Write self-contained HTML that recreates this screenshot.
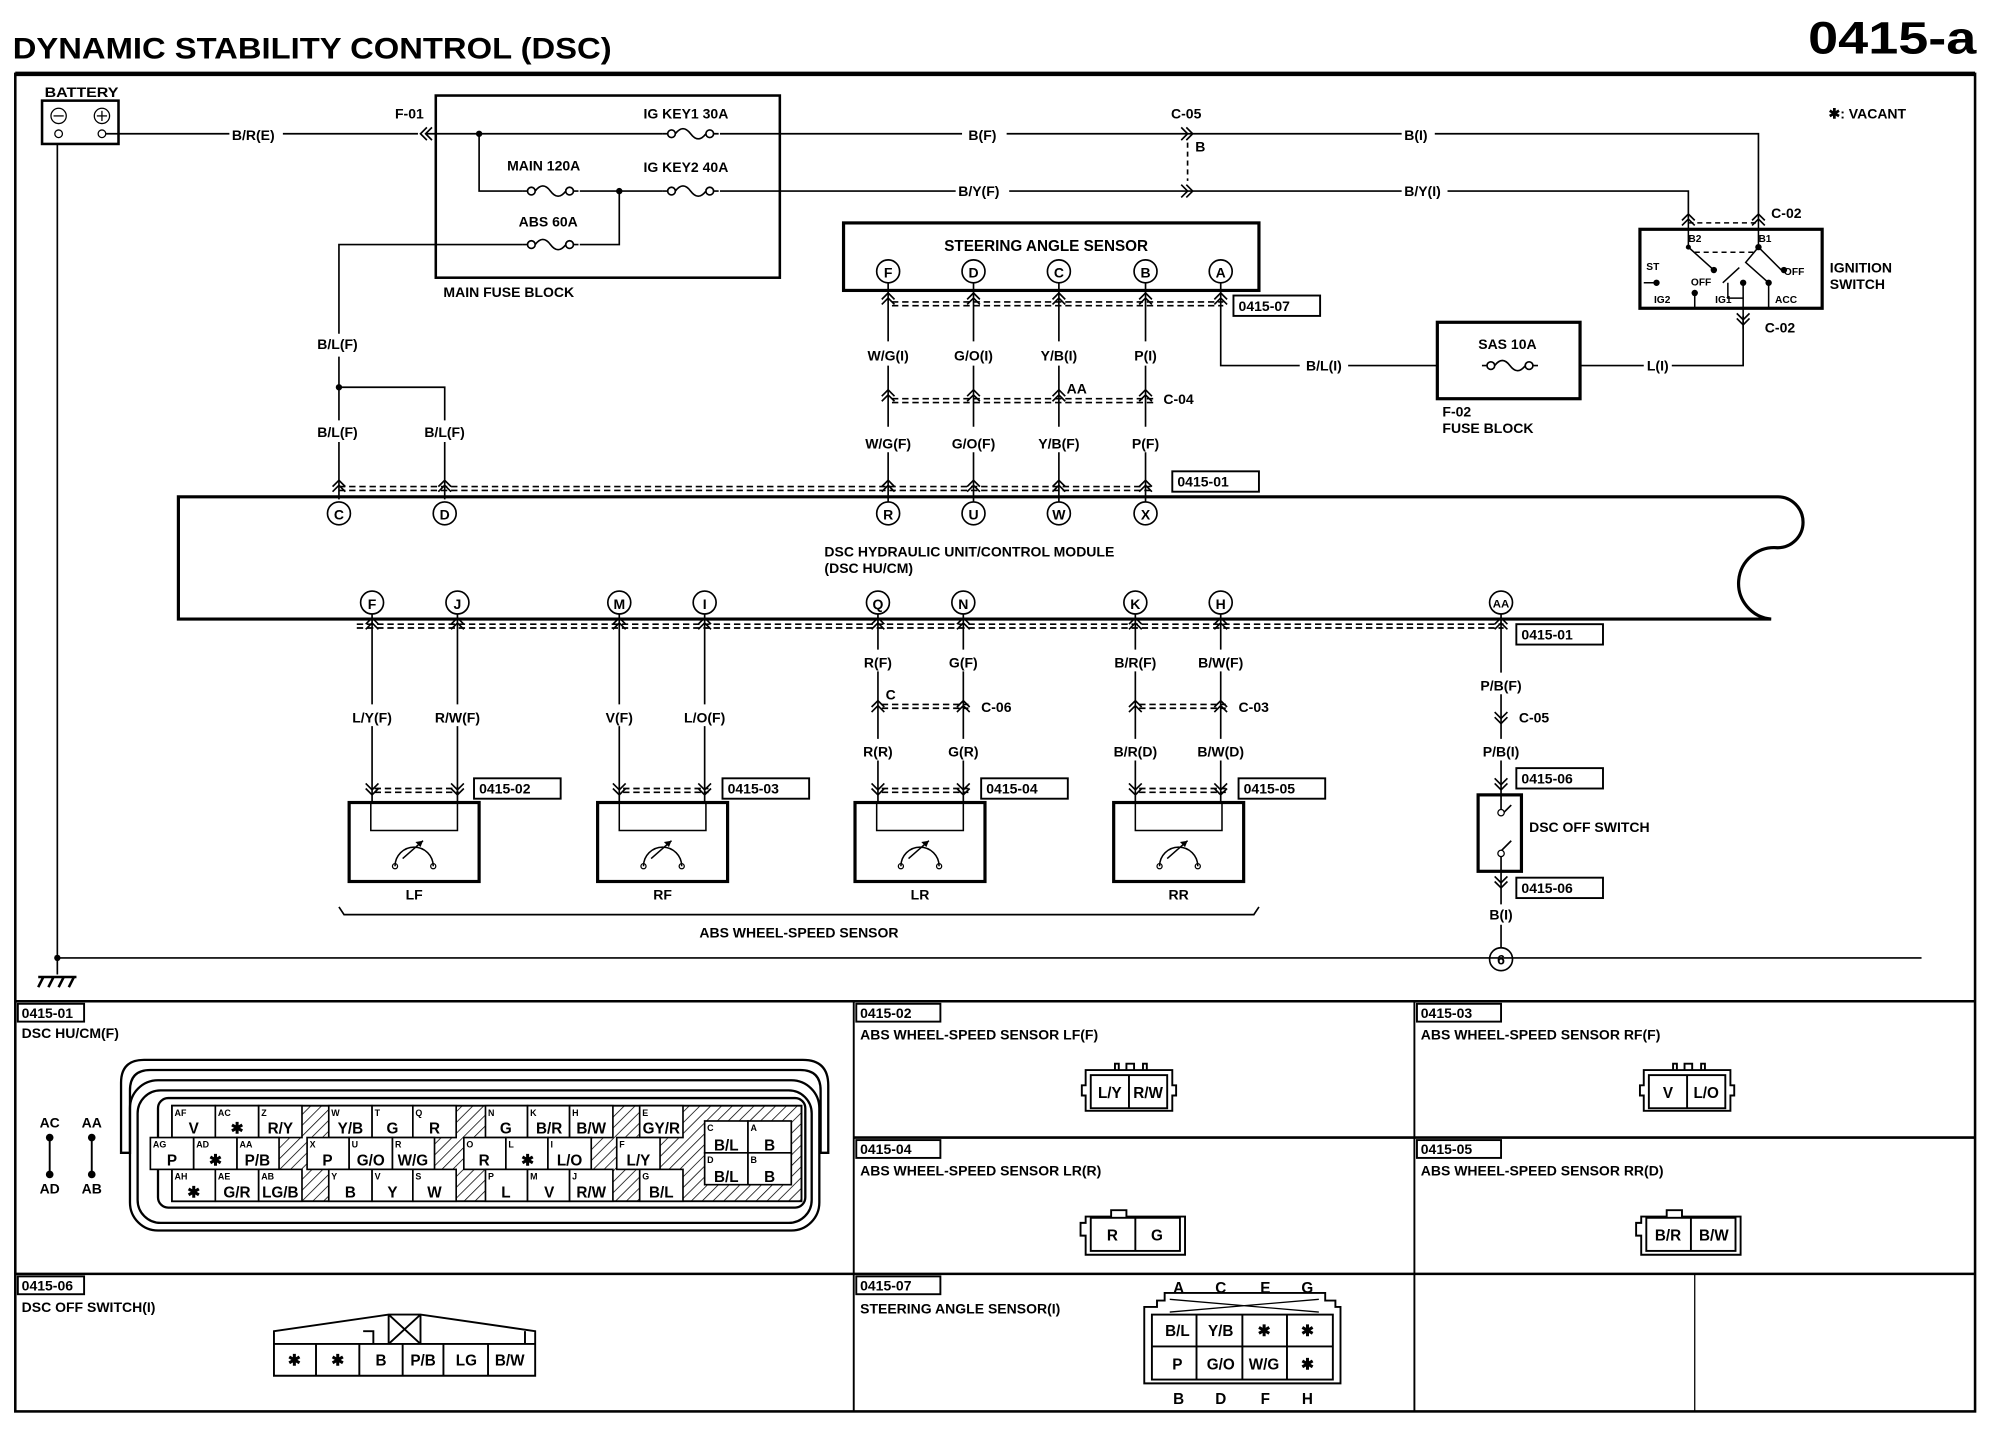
<!DOCTYPE html>
<html><head><meta charset="utf-8"><style>
html,body{margin:0;padding:0;background:#fff}
svg{display:block}
text{font-family:"Liberation Sans",sans-serif;font-weight:bold;fill:#000}
</style></head><body>
<svg width="1998" height="1456" viewBox="0 0 1568 1143" preserveAspectRatio="none" xmlns="http://www.w3.org/2000/svg">
<defs>
<path id="cu" d="M-5,5 L0,0 L5,5 M-5,9 L0,4 L5,9" fill="none" stroke="#000" stroke-width="1.3"/>
<path id="cd" d="M-5,-5 L0,0 L5,-5 M-5,-9 L0,-4 L5,-9" fill="none" stroke="#000" stroke-width="1.3"/>
<path id="cl" d="M5,-5 L0,0 L5,5 M9,-5 L4,0 L9,5" fill="none" stroke="#000" stroke-width="1.3"/>
<path id="cr" d="M-5,-5 L0,0 L-5,5 M-9,-5 L-4,0 L-9,5" fill="none" stroke="#000" stroke-width="1.3"/>
<path id="fuse" d="M0,0 h4 m6,0 a3,3 0 1 1 -6,0 a3,3 0 1 1 6,0 q6,-8 12,0 q6,8 12,0 m6,0 a3,3 0 1 1 -6,0 a3,3 0 1 1 6,0 h4" fill="none" stroke="#000" stroke-width="1.3"/>
<g id="sensor"><rect x="0" y="0" width="102" height="62" fill="none" stroke="#000" stroke-width="2.5"/><path d="M17,0 v22 h68 v-22" fill="none" stroke="#000" stroke-width="1.2"/><path d="M36,50 a15,15 0 0 1 30,0" fill="none" stroke="#000" stroke-width="1.2"/><path d="M42,44 L58,30" stroke="#000" stroke-width="1.2"/><path d="M58,30 l-6,1 l4,4z"/><circle cx="36" cy="50" r="2" fill="none" stroke="#000"/><circle cx="66" cy="50" r="2" fill="none" stroke="#000"/></g>
<pattern id="hat" width="6" height="6" patternUnits="userSpaceOnUse" patternTransform="rotate(45)"><rect width="6" height="6" fill="#fff"/><line x1="0" y1="0" x2="0" y2="6" stroke="#000" stroke-width="1.2"/></pattern>
</defs>
<g font-size="11">
<text x="10" y="46" font-size="23" textLength="470" lengthAdjust="spacingAndGlyphs">DYNAMIC STABILITY CONTROL (DSC)</text>
<text x="1419" y="42" font-size="36" textLength="132" lengthAdjust="spacingAndGlyphs">0415-a</text>
</g>
<g fill="none" stroke="#000">
<rect x="12" y="58" width="1538" height="1050" stroke-width="2"/>
<line x1="12" y1="58" x2="1550" y2="58" stroke-width="3.5"/>
<line x1="12" y1="786" x2="1550" y2="786" stroke-width="2"/>
<line x1="670" y1="786" x2="670" y2="1108" stroke-width="1.5"/>
<line x1="1110" y1="786" x2="1110" y2="1108" stroke-width="1.5"/>
<line x1="670" y1="893" x2="1550" y2="893" stroke-width="2"/>
<line x1="12" y1="1000" x2="1550" y2="1000" stroke-width="2"/>
<line x1="1330" y1="1000" x2="1330" y2="1108" stroke-width="1"/>
</g>
<!-- battery -->
<g font-size="11">
<text x="35" y="76" textLength="58" lengthAdjust="spacingAndGlyphs">BATTERY</text>
<rect x="33" y="79" width="60" height="34" fill="none" stroke="#000" stroke-width="2"/>
<circle cx="46" cy="91" r="6" fill="none" stroke="#000"/><line x1="42" y1="91" x2="50" y2="91" stroke="#000"/>
<circle cx="80" cy="91" r="6" fill="none" stroke="#000"/><line x1="76" y1="91" x2="84" y2="91" stroke="#000"/><line x1="80" y1="87" x2="80" y2="95" stroke="#000"/>
<circle cx="46" cy="105" r="3" fill="none" stroke="#000"/><circle cx="80" cy="105" r="3" fill="none" stroke="#000"/>
</g>
<g stroke="#000" fill="none" stroke-width="1.3">
<!-- top wires -->
<path d="M83,105 H180 M222,105 H328 M334,105 H520 M565,105 H755 M790,105 H1100 M1126,105 H1380 V172"/>
<path d="M376,105 V150 H410 M455,150 H520 M565,150 H750 M792,150 H1100 M1136,150 H1325 V172"/>
<path d="M455,192 H486 V150"/>
<path d="M410,192 H266 V262 M266,280 V330 M266,347 V392"/>
<path d="M266,304 H349 V330 M349,347 V392"/>
<rect x="342" y="75" width="270" height="143" stroke-width="2"/>
<path d="M932,112 V142" stroke-dasharray="4,3"/>
<path d="M45,113 V752 H1508"/>
<path d="M45,752 V765"/>
</g>
<use href="#cl" x="330" y="105"/><use href="#cr" x="936" y="105"/><use href="#cr" x="936" y="150"/>
<circle cx="376" cy="105" r="2.5"/><circle cx="486" cy="150" r="2.5"/><circle cx="266" cy="304" r="2.5"/><circle cx="45" cy="752" r="2.5"/>
<use href="#fuse" x="520" y="105"/><use href="#fuse" x="410" y="150"/><use href="#fuse" x="520" y="150"/><use href="#fuse" x="410" y="192"/>
<path d="M30,767 H60 M34,767 l-4,8 M42,767 l-4,8 M50,767 l-4,8 M58,767 l-4,8" stroke="#000" stroke-width="2"/>
<g font-size="11">
<text x="182" y="110">B/R(E)</text><text x="310" y="93">F-01</text>
<text x="505" y="93">IG KEY1 30A</text><text x="398" y="134">MAIN 120A</text><text x="505" y="135">IG KEY2 40A</text><text x="407" y="178">ABS 60A</text>
<text x="348" y="233">MAIN FUSE BLOCK</text>
<text x="760" y="110">B(F)</text><text x="919" y="93">C-05</text><text x="938" y="119">B</text><text x="1102" y="110">B(I)</text>
<text x="752" y="154">B/Y(F)</text><text x="1102" y="154">B/Y(I)</text>
<text x="1435" y="93">✱: VACANT</text>
<text x="249" y="274">B/L(F)</text><text x="249" y="343">B/L(F)</text><text x="333" y="343">B/L(F)</text>
</g>
<!-- steering angle sensor -->
<rect x="662" y="175" width="326" height="53" fill="none" stroke="#000" stroke-width="2.5"/>
<text x="741" y="197" font-size="12">STEERING ANGLE SENSOR</text>
<g font-size="11" text-anchor="middle">
<g fill="none" stroke="#000" stroke-width="1.3">
<circle cx="697" cy="213" r="9"/><circle cx="764" cy="213" r="9"/><circle cx="831" cy="213" r="9"/><circle cx="899" cy="213" r="9"/><circle cx="958" cy="213" r="9"/>
<path d="M697,222 V268 M697,287 V335 M697,355 V394 M764,222 V268 M764,287 V335 M764,355 V394 M831,222 V268 M831,287 V335 M831,355 V394 M899,222 V268 M899,287 V335 M899,355 V394"/>
<path d="M958,222 V287 H1020 M1058,287 H1128 M1240,287 H1290 M1312,287 H1368 V248"/>
<path d="M700,237 H960 M700,240 H960 M700,313 H905 M700,316 H905 M266,382 H905 M266,385 H905" stroke-dasharray="5,3"/>
<rect x="1128" y="253" width="112" height="60" stroke-width="2.5"/>
</g>
<use href="#cu" x="697" y="230"/><use href="#cu" x="764" y="230"/><use href="#cu" x="831" y="230"/><use href="#cu" x="899" y="230"/><use href="#cu" x="958" y="230"/>
<use href="#cu" x="697" y="306"/><use href="#cu" x="764" y="306"/><use href="#cu" x="831" y="306"/><use href="#cu" x="899" y="306"/>
<use href="#cu" x="266" y="377"/><use href="#cu" x="349" y="377"/><use href="#cu" x="697" y="377"/><use href="#cu" x="764" y="377"/><use href="#cu" x="831" y="377"/><use href="#cu" x="899" y="377"/>
<use href="#fuse" x="1163" y="287"/>
<text x="697" y="218">F</text><text x="764" y="218">D</text><text x="831" y="218">C</text><text x="899" y="218">B</text><text x="958" y="218">A</text>
<text x="697" y="283">W/G(I)</text><text x="764" y="283">G/O(I)</text><text x="831" y="283">Y/B(I)</text><text x="899" y="283">P(I)</text>
<text x="845" y="309">AA</text>
<text x="697" y="352">W/G(F)</text><text x="764" y="352">G/O(F)</text><text x="831" y="352">Y/B(F)</text><text x="899" y="352">P(F)</text>
<text x="1039" y="291">B/L(I)</text><text x="1301" y="291">L(I)</text><text x="1183" y="274">SAS 10A</text>
</g>
<g font-size="11"><text x="913" y="317">C-04</text><text x="1132" y="327">F-02</text><text x="1132" y="340">FUSE BLOCK</text></g>
<g font-size="11"><rect x="968" y="232" width="68" height="16" fill="none" stroke="#000" stroke-width="1.5"/><text x="972" y="244">0415-07</text>
<rect x="920" y="370" width="68" height="16" fill="none" stroke="#000" stroke-width="1.5"/><text x="924" y="382">0415-01</text></g>
<!-- ignition switch -->
<rect x="1287" y="180" width="143" height="62" fill="none" stroke="#000" stroke-width="2.5"/>
<g stroke="#000" fill="none" stroke-width="1.2">
<path d="M1325,172 V194 L1345,212 M1380,172 V194 L1398,212 M1380,194 L1370,206 L1388,222 V242 M1352,222 L1365,210 M1356,222 V234 H1368 V222 M1368,222 V258 M1330,232 V242 M1290,222 H1300"/>
<path d="M1325,175 H1380 M1330,198 H1378" stroke-dasharray="4,3"/>
</g>
<g fill="#000"><circle cx="1325" cy="194" r="2"/><circle cx="1380" cy="194" r="2.5"/><circle cx="1345" cy="212" r="2.5"/><circle cx="1400" cy="212" r="2.5"/><circle cx="1368" cy="222" r="2.5"/><circle cx="1388" cy="222" r="2.5"/><circle cx="1330" cy="230" r="2.5"/><circle cx="1300" cy="222" r="2.5"/></g>
<use href="#cu" x="1325" y="168"/><use href="#cu" x="1380" y="168"/><use href="#cd" x="1368" y="255"/>
<g font-size="8"><text x="1325" y="190">B2</text><text x="1380" y="190">B1</text><text x="1292" y="212">ST</text><text x="1327" y="224">OFF</text><text x="1400" y="216">OFF</text><text x="1298" y="238">IG2</text><text x="1346" y="238">IG1</text><text x="1393" y="238">ACC</text></g>
<g font-size="11"><text x="1390" y="171">C-02</text><text x="1385" y="261">C-02</text><text x="1436" y="214">IGNITION</text><text x="1436" y="227">SWITCH</text></g>
<!-- module -->
<path d="M140,390 H1395 A20,20 0 0 1 1395,430 A24,24 0 0 0 1390,486 H140 Z" fill="none" stroke="#000" stroke-width="2.5"/>
<g font-size="11"><text x="647" y="437">DSC HYDRAULIC UNIT/CONTROL MODULE</text><text x="647" y="450">(DSC HU/CM)</text></g>
<g font-size="11" text-anchor="middle">
<g fill="none" stroke="#000" stroke-width="1.3">
<circle cx="266" cy="403" r="9"/><circle cx="349" cy="403" r="9"/><circle cx="697" cy="403" r="9"/><circle cx="764" cy="403" r="9"/><circle cx="831" cy="403" r="9"/><circle cx="899" cy="403" r="9"/>
<circle cx="292" cy="473" r="9"/><circle cx="359" cy="473" r="9"/><circle cx="486" cy="473" r="9"/><circle cx="553" cy="473" r="9"/><circle cx="689" cy="473" r="9"/><circle cx="756" cy="473" r="9"/><circle cx="891" cy="473" r="9"/><circle cx="958" cy="473" r="9"/><circle cx="1178" cy="473" r="9"/>
<path d="M292,482 V553 M292,570 V630 M359,482 V553 M359,570 V630 M486,482 V553 M486,570 V630 M553,482 V553 M553,570 V630"/>
<path d="M689,482 V510 M689,527 V580 M689,597 V630 M756,482 V510 M756,527 V580 M756,597 V630 M891,482 V510 M891,527 V580 M891,597 V630 M958,482 V510 M958,527 V580 M958,597 V630"/>
<path d="M1178,482 V528 M1178,545 V580 M1178,597 V624 M1178,684 V710 M1178,726 V744"/>
<path d="M280,490 H1180 M280,493 H1180 M692,553 H760 M692,556 H760 M894,553 H962 M894,556 H962 M294,619 H360 M294,622 H360 M489,619 H556 M489,622 H556 M692,619 H760 M692,622 H760 M894,619 H962 M894,622 H962" stroke-dasharray="5,3"/>
<circle cx="1178" cy="753" r="9"/>
<rect x="1160" y="624" width="34" height="60" stroke-width="2.5"/>
<path d="M1178,624 V636 M1178,672 V684 M1178,640 L1186,632 M1178,668 L1186,660"/>
<path d="M266,712 l4,6 H984 l4,-6"/>
</g>
<g fill="#fff" stroke="#000"><circle cx="1178" cy="638" r="2.5"/><circle cx="1178" cy="670" r="2.5"/></g>
<use href="#cu" x="292" y="485"/><use href="#cu" x="359" y="485"/><use href="#cu" x="486" y="485"/><use href="#cu" x="553" y="485"/><use href="#cu" x="689" y="485"/><use href="#cu" x="756" y="485"/><use href="#cu" x="891" y="485"/><use href="#cu" x="958" y="485"/><use href="#cu" x="1178" y="485"/>
<use href="#cu" x="689" y="550"/><use href="#cu" x="756" y="550"/><use href="#cu" x="891" y="550"/><use href="#cu" x="958" y="550"/><use href="#cd" x="1178" y="568"/>
<use href="#cd" x="292" y="624"/><use href="#cd" x="359" y="624"/><use href="#cd" x="486" y="624"/><use href="#cd" x="553" y="624"/><use href="#cd" x="689" y="624"/><use href="#cd" x="756" y="624"/><use href="#cd" x="891" y="624"/><use href="#cd" x="958" y="624"/><use href="#cd" x="1178" y="620"/><use href="#cd" x="1178" y="697"/>
<text x="266" y="408">C</text><text x="349" y="408">D</text><text x="697" y="408">R</text><text x="764" y="408">U</text><text x="831" y="408">W</text><text x="899" y="408">X</text>
<text x="292" y="478">F</text><text x="359" y="478">J</text><text x="486" y="478">M</text><text x="553" y="478">I</text><text x="689" y="478">Q</text><text x="756" y="478">N</text><text x="891" y="478">K</text><text x="958" y="478">H</text><text x="1178" y="477" font-size="9">AA</text><text x="1178" y="757">6</text>
<text x="292" y="567">L/Y(F)</text><text x="359" y="567">R/W(F)</text><text x="486" y="567">V(F)</text><text x="553" y="567">L/O(F)</text>
<text x="689" y="524">R(F)</text><text x="756" y="524">G(F)</text><text x="689" y="594">R(R)</text><text x="756" y="594">G(R)</text>
<text x="891" y="524">B/R(F)</text><text x="958" y="524">B/W(F)</text><text x="891" y="594">B/R(D)</text><text x="958" y="594">B/W(D)</text>
<text x="1178" y="542">P/B(F)</text><text x="1178" y="594">P/B(I)</text><text x="1178" y="722">B(I)</text>
<text x="325" y="706">LF</text><text x="520" y="706">RF</text><text x="722" y="706">LR</text><text x="925" y="706">RR</text>
<text x="627" y="736">ABS WHEEL-SPEED SENSOR</text>
</g>
<g font-size="11"><text x="695" y="549">C</text><text x="770" y="559">C-06</text><text x="972" y="559">C-03</text><text x="1192" y="567">C-05</text><text x="1200" y="653">DSC OFF SWITCH</text></g>
<use href="#sensor" x="274" y="630"/><use href="#sensor" x="469" y="630"/><use href="#sensor" x="671" y="630"/><use href="#sensor" x="874" y="630"/>
<g font-size="11" fill="none">
<g fill="none" stroke="#000" stroke-width="1.5">
<rect x="372" y="611" width="68" height="16"/><rect x="567" y="611" width="68" height="16"/><rect x="770" y="611" width="68" height="16"/><rect x="972" y="611" width="68" height="16"/>
<rect x="1190" y="490" width="68" height="16"/><rect x="1190" y="603" width="68" height="16"/><rect x="1190" y="689" width="68" height="16"/>
</g>
<text x="376" y="623">0415-02</text><text x="571" y="623">0415-03</text><text x="774" y="623">0415-04</text><text x="976" y="623">0415-05</text>
<text x="1194" y="502">0415-01</text><text x="1194" y="615">0415-06</text><text x="1194" y="701">0415-06</text>
</g>
<!-- bottom panels -->
<g font-size="11">
<g fill="none" stroke="#000" stroke-width="1.5">
<rect x="14" y="788" width="52" height="14"/><rect x="14" y="1002" width="52" height="14"/>
<rect x="672" y="788" width="66" height="14"/><rect x="1112" y="788" width="66" height="14"/>
<rect x="672" y="895" width="66" height="14"/><rect x="1112" y="895" width="66" height="14"/><rect x="672" y="1002" width="66" height="14"/>
</g>
<text x="17" y="799">0415-01</text><text x="17" y="815">DSC HU/CM(F)</text>
<text x="17" y="1013">0415-06</text><text x="17" y="1030">DSC OFF SWITCH(I)</text>
<text x="675" y="799">0415-02</text><text x="675" y="816">ABS WHEEL-SPEED SENSOR LF(F)</text>
<text x="1115" y="799">0415-03</text><text x="1115" y="816">ABS WHEEL-SPEED SENSOR RF(F)</text>
<text x="675" y="906">0415-04</text><text x="675" y="923">ABS WHEEL-SPEED SENSOR LR(R)</text>
<text x="1115" y="906">0415-05</text><text x="1115" y="923">ABS WHEEL-SPEED SENSOR RR(D)</text>
<text x="675" y="1013">0415-07</text><text x="675" y="1031">STEERING ANGLE SENSOR(I)</text>
</g>
<!-- HU/CM connector -->
<g fill="none" stroke="#000" stroke-width="1.8">
<path d="M95,905 V850 q0,-18 18,-18 H630 q20,0 20,20 V905 h-6 V856 q0,-16 -16,-16 H118 q-16,0 -16,16 V905 Z"/>
<rect x="102" y="848" width="541" height="118" rx="22"/>
<rect x="108" y="856" width="529" height="104" rx="18"/>
<rect x="124" y="862" width="508" height="86" rx="8"/>
</g>
<rect x="135" y="868" width="494" height="75" fill="url(#hat)" stroke="#000" stroke-width="1.5"/>
<g font-size="12" text-anchor="middle" stroke="#000" stroke-width="1.3">
<g fill="#fff">
<rect x="135" y="868" width="34" height="25"/><rect x="169" y="868" width="34" height="25"/><rect x="203" y="868" width="34" height="25"/>
<rect x="258" y="868" width="34" height="25"/><rect x="292" y="868" width="32" height="25"/><rect x="324" y="868" width="34" height="25"/>
<rect x="381" y="868" width="33" height="25"/><rect x="414" y="868" width="33" height="25"/><rect x="447" y="868" width="34" height="25"/><rect x="502" y="868" width="34" height="25"/>
<rect x="118" y="893" width="34" height="25"/><rect x="152" y="893" width="34" height="25"/><rect x="186" y="893" width="33" height="25"/>
<rect x="241" y="893" width="33" height="25"/><rect x="274" y="893" width="34" height="25"/><rect x="308" y="893" width="33" height="25"/>
<rect x="364" y="893" width="33" height="25"/><rect x="397" y="893" width="33" height="25"/><rect x="430" y="893" width="34" height="25"/><rect x="484" y="893" width="34" height="25"/>
<rect x="135" y="918" width="34" height="25"/><rect x="169" y="918" width="34" height="25"/><rect x="203" y="918" width="34" height="25"/>
<rect x="258" y="918" width="34" height="25"/><rect x="292" y="918" width="32" height="25"/><rect x="324" y="918" width="34" height="25"/>
<rect x="381" y="918" width="33" height="25"/><rect x="414" y="918" width="33" height="25"/><rect x="447" y="918" width="34" height="25"/><rect x="502" y="918" width="34" height="25"/>
<rect x="553" y="880" width="34" height="25"/><rect x="587" y="880" width="34" height="25"/><rect x="553" y="905" width="34" height="25"/><rect x="587" y="905" width="34" height="25"/>
</g>
<g fill="#000" stroke="none">
<text x="152" y="890">V</text><text x="186" y="890">✱</text><text x="220" y="890">R/Y</text><text x="275" y="890">Y/B</text><text x="308" y="890">G</text><text x="341" y="890">R</text><text x="397" y="890">G</text><text x="431" y="890">B/R</text><text x="464" y="890">B/W</text><text x="519" y="890">GY/R</text>
<text x="135" y="915">P</text><text x="169" y="915">✱</text><text x="202" y="915">P/B</text><text x="257" y="915">P</text><text x="291" y="915">G/O</text><text x="324" y="915">W/G</text><text x="380" y="915">R</text><text x="414" y="915">✱</text><text x="447" y="915">L/O</text><text x="501" y="915">L/Y</text>
<text x="152" y="940">✱</text><text x="186" y="940">G/R</text><text x="220" y="940">LG/B</text><text x="275" y="940">B</text><text x="308" y="940">Y</text><text x="341" y="940">W</text><text x="397" y="940">L</text><text x="431" y="940">V</text><text x="464" y="940">R/W</text><text x="519" y="940">B/L</text>
<text x="570" y="903">B/L</text><text x="604" y="903">B</text><text x="570" y="928">B/L</text><text x="604" y="928">B</text>
</g>
<g fill="#000" stroke="none" font-size="7" text-anchor="start">
<text x="137" y="876">AF</text><text x="171" y="876">AC</text><text x="205" y="876">Z</text><text x="260" y="876">W</text><text x="294" y="876">T</text><text x="326" y="876">Q</text><text x="383" y="876">N</text><text x="416" y="876">K</text><text x="449" y="876">H</text><text x="504" y="876">E</text>
<text x="120" y="901">AG</text><text x="154" y="901">AD</text><text x="188" y="901">AA</text><text x="243" y="901">X</text><text x="276" y="901">U</text><text x="310" y="901">R</text><text x="366" y="901">O</text><text x="399" y="901">L</text><text x="432" y="901">I</text><text x="486" y="901">F</text>
<text x="137" y="926">AH</text><text x="171" y="926">AE</text><text x="205" y="926">AB</text><text x="260" y="926">Y</text><text x="294" y="926">V</text><text x="326" y="926">S</text><text x="383" y="926">P</text><text x="416" y="926">M</text><text x="449" y="926">J</text><text x="504" y="926">G</text>
<text x="555" y="888">C</text><text x="589" y="888">A</text><text x="555" y="913">D</text><text x="589" y="913">B</text>
</g>
</g>
<g font-size="11" text-anchor="middle"><text x="39" y="885">AC</text><text x="72" y="885">AA</text><text x="39" y="937">AD</text><text x="72" y="937">AB</text></g>
<g stroke="#000" stroke-width="1.5"><line x1="39" y1="893" x2="39" y2="922"/><line x1="72" y1="893" x2="72" y2="922"/></g>
<g><circle cx="39" cy="893" r="3"/><circle cx="39" cy="922" r="3"/><circle cx="72" cy="893" r="3"/><circle cx="72" cy="922" r="3"/></g>
<!-- DSC off switch connector -->
<g fill="none" stroke="#000" stroke-width="1.5">
<path d="M215,1045 L305,1032 H330 L420,1045 V1080 H215 Z"/>
<path d="M215,1055 H420 M305,1032 V1055 M330,1032 V1055 M305,1032 L330,1055 M330,1032 L305,1055 M285,1045 h8 v10 M412,1045 v10"/>
<path d="M248,1055 V1080 M282,1055 V1080 M316,1055 V1080 M348,1055 V1080 M383,1055 V1080"/>
</g>
<g font-size="12" text-anchor="middle"><text x="231" y="1072">✱</text><text x="265" y="1072">✱</text><text x="299" y="1072">B</text><text x="332" y="1072">P/B</text><text x="366" y="1072">LG</text><text x="400" y="1072">B/W</text></g>
<!-- ABS sensor connectors -->
<g fill="none" stroke="#000" stroke-width="1.5">
<path d="M852,840 H920 V852 h3 v8 h-3 V872 H852 V860 h-3 v-8 h3 Z"/><rect x="856" y="844" width="60" height="26"/><line x1="886" y1="844" x2="886" y2="870"/><path d="M875,840 v-5 h3 v5 M884,840 v-5 h6 v5 M897,840 v-5 h3 v5"/>
<path d="M1290,840 H1358 V852 h3 v8 h-3 V872 H1290 V860 h-3 v-8 h3 Z"/><rect x="1294" y="844" width="60" height="26"/><line x1="1324" y1="844" x2="1324" y2="870"/><path d="M1313,840 v-5 h3 v5 M1322,840 v-5 h6 v5 M1335,840 v-5 h3 v5"/>
<path d="M852,955 H872 v-5 h12 v5 H930 V985 H852 V970 h-4 v-10 h4 Z"/><rect x="856" y="956" width="70" height="26"/><line x1="891" y1="956" x2="891" y2="982"/>
<path d="M1288,955 H1308 v-5 h12 v5 H1366 V985 H1288 V970 h-4 v-10 h4 Z"/><rect x="1292" y="956" width="70" height="26"/><line x1="1327" y1="956" x2="1327" y2="982"/>
</g>
<g font-size="12" text-anchor="middle"><text x="871" y="862">L/Y</text><text x="901" y="862">R/W</text><text x="1309" y="862">V</text><text x="1339" y="862">L/O</text><text x="873" y="974">R</text><text x="908" y="974">G</text><text x="1309" y="974">B/R</text><text x="1345" y="974">B/W</text></g>
<!-- steering angle sensor connector -->
<g fill="none" stroke="#000" stroke-width="1.5">
<path d="M898,1026 h10 v-5 h6 v-6 H1040 v6 h8 v5 h4 V1086 H898 Z"/>
<rect x="904" y="1032" width="142" height="51"/>
<path d="M904,1057 H1046 M939,1032 V1083 M975,1032 V1083 M1010,1032 V1083"/>
<path d="M918,1020 L1035,1030 M918,1030 L1035,1020" stroke-width="1"/>
</g>
<g font-size="12" text-anchor="middle">
<text x="925" y="1015">A</text><text x="958" y="1015">C</text><text x="993" y="1015">E</text><text x="1026" y="1015">G</text>
<text x="924" y="1049">B/L</text><text x="958" y="1049">Y/B</text><text x="992" y="1049">✱</text><text x="1026" y="1049">✱</text>
<text x="924" y="1075">P</text><text x="958" y="1075">G/O</text><text x="992" y="1075">W/G</text><text x="1026" y="1075">✱</text>
<text x="925" y="1102">B</text><text x="958" y="1102">D</text><text x="993" y="1102">F</text><text x="1026" y="1102">H</text>
</g>
</svg>
</body></html>
